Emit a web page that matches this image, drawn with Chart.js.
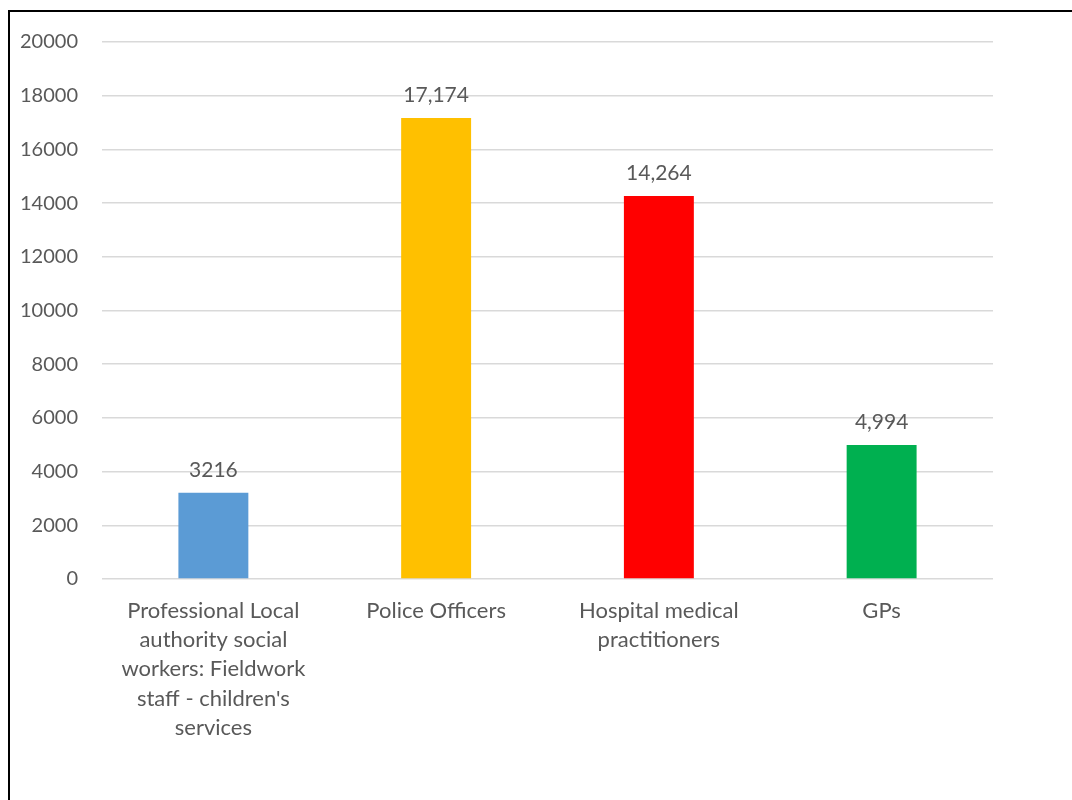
<!DOCTYPE html>
<html>
<head>
<meta charset="utf-8">
<script src="https://cdn.jsdelivr.net/npm/chart.js@4"></script>
<style>
  body { margin: 0; background: #fff; }
  #wrap { position: relative; width: 1072px; height: 800px; overflow: hidden; }
  #frame { position: absolute; left: 8px; top: 10px; width: 1100px; height: 820px; border: 2px solid #000; box-sizing: border-box; }
  canvas { position: absolute; left: 0; top: 0; }
</style>
</head>
<body>
<div id="wrap">
  <div id="frame"></div>
  <canvas id="workforceChart" width="1072" height="800"></canvas>
</div>
<script>
const categories = [
  ["Professional Local", "authority social", "workers: Fieldwork", "staff - children's", "services"],
  "Police Officers",
  ["Hospital medical", "practitioners"],
  "GPs",
];
const counts = [3216, 17174, 14264, 4994];
const countLabels = ["3216", "17,174", "14,264", "4,994"];
const barColors = ["#5B9BD5", "#FFC000", "#FF0000", "#00B050"];
const yTicks = [0, 2000, 4000, 6000, 8000, 10000, 12000, 14000, 16000, 18000, 20000];

const textColor = "#595959";
const fontFamily = "Lato, 'Open Sans', sans-serif";

// value labels above each bar
const valueLabels = {
  id: "valueLabels",
  afterDatasetsDraw(chart) {
    const ctx = chart.ctx;
    const meta = chart.getDatasetMeta(0);
    ctx.save();
    ctx.font = "21px " + fontFamily;
    ctx.fillStyle = textColor;
    ctx.textAlign = "center";
    ctx.textBaseline = "bottom";
    meta.data.forEach(function (bar, i) {
      ctx.fillText(countLabels[i], bar.x, bar.y - 12);
    });
    ctx.restore();
  },
};

new Chart(document.getElementById("workforceChart"), {
  type: "bar",
  data: {
    labels: categories,
    datasets: [
      {
        data: counts,
        backgroundColor: barColors,
        borderWidth: 0,
        categoryPercentage: 1,
        barPercentage: 0.314,
      },
    ],
  },
  options: {
    responsive: false,
    animation: false,
    layout: {
      padding: { top: 42, right: 79, left: 0, bottom: 0 },
    },
    plugins: {
      legend: { display: false },
      tooltip: { enabled: false },
    },
    scales: {
      x: {
        grid: { display: false },
        border: { display: false },
        ticks: {
          color: textColor,
          padding: 9,
          maxRotation: 0,
          autoSkip: false,
          font: { family: fontFamily, size: 22, lineHeight: 1.33 },
        },
        afterFit: function (scale) {
          scale.height = 221;
        },
      },
      y: {
        min: 0,
        max: 20000,
        afterBuildTicks: function (scale) {
          scale.ticks = yTicks.map(function (v) {
            return { value: v };
          });
        },
        grid: { color: "#d9d9d9", lineWidth: 1.5, drawTicks: false },
        border: { display: false },
        ticks: {
          color: textColor,
          padding: 24,
          font: { family: fontFamily, size: 20 },
          callback: function (value) {
            return String(value);
          },
        },
        afterFit: function (scale) {
          scale.width = 102;
        },
      },
    },
  },
  plugins: [valueLabels],
});
</script>
</body>
</html>
